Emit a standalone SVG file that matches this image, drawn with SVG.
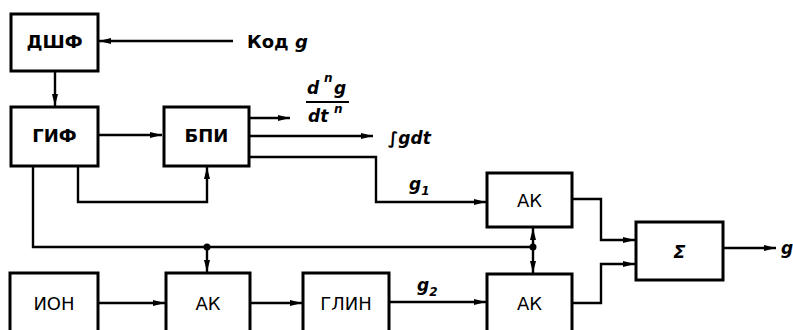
<svg xmlns="http://www.w3.org/2000/svg" width="793" height="330" viewBox="0 0 793 330">
<defs>
<marker id="ah" markerWidth="12" markerHeight="8" refX="12" refY="4" orient="auto" markerUnits="userSpaceOnUse">
<path d="M0,1 L12,4 L0,7 Z" fill="#000"/>
</marker>
</defs>
<style>
.box{fill:#fff;stroke:#000;stroke-width:3}
.ln{fill:none;stroke:#000;stroke-width:2.4}
.lb{font-family:"DejaVu Sans","Liberation Sans",sans-serif;font-size:18px;text-anchor:middle;fill:#000}
.b{font-weight:bold}
.m{font-family:"DejaVu Sans","Liberation Sans",sans-serif;font-style:italic;font-weight:bold;fill:#000}
</style>
<rect width="793" height="330" fill="#fff"/>
<g id="connectors">
<line class="ln" x1="233" y1="41" x2="99" y2="41" marker-end="url(#ah)"/>
<line class="ln" x1="55" y1="71" x2="55" y2="106" marker-end="url(#ah)"/>
<line class="ln" x1="98" y1="135" x2="162" y2="135" marker-end="url(#ah)"/>
<line class="ln" x1="249" y1="118" x2="290" y2="118" marker-end="url(#ah)"/>
<line class="ln" x1="249" y1="136" x2="373" y2="136" marker-end="url(#ah)"/>
<polyline class="ln" points="249,157 376,157 376,202 486,202" marker-end="url(#ah)"/>
<polyline class="ln" points="78,166 78,202 207,202 207,167" marker-end="url(#ah)"/>
<polyline class="ln" points="33,166 33,247 533,247"/>
<line class="ln" x1="207" y1="247" x2="207" y2="272" marker-end="url(#ah)"/>
<line class="ln" x1="533" y1="247" x2="533" y2="228" marker-end="url(#ah)"/>
<line class="ln" x1="533" y1="247" x2="533" y2="273" marker-end="url(#ah)"/>
<circle cx="207" cy="247" r="3.5" fill="#000"/>
<circle cx="533" cy="247" r="3.5" fill="#000"/>
<line class="ln" x1="98" y1="303" x2="165" y2="303" marker-end="url(#ah)"/>
<line class="ln" x1="250" y1="303" x2="302" y2="303" marker-end="url(#ah)"/>
<line class="ln" x1="389" y1="302" x2="486" y2="302" marker-end="url(#ah)"/>
<polyline class="ln" points="572,199 601,199 601,240 635,240" marker-end="url(#ah)"/>
<polyline class="ln" points="572,303 601,303 601,264 635,264" marker-end="url(#ah)"/>
<line class="ln" x1="723" y1="248" x2="776" y2="248" marker-end="url(#ah)"/>
</g>
<g id="dshf"><rect class="box" x="11" y="14" width="87" height="57"/><text class="lb b" x="54.5" y="48">ДШФ</text></g>
<g id="gif"><rect class="box" x="11" y="107" width="87" height="59"/><text class="lb b" x="54.5" y="142">ГИФ</text></g>
<g id="bpi"><rect class="box" x="164" y="107" width="85" height="59"/><text class="lb b" x="206.5" y="142">БПИ</text></g>
<g id="ak1"><rect class="box" x="487" y="173" width="85" height="54"/><text class="lb" x="529.5" y="207">АК</text></g>
<g id="sum"><rect class="box" x="636" y="222" width="87" height="58"/><text class="lb b" x="679.5" y="258" font-style="italic">Σ</text></g>
<g id="ion"><rect class="box" x="10" y="273" width="88" height="62"/><text class="lb" x="54" y="310">ИОН</text></g>
<g id="ak2"><rect class="box" x="166" y="273" width="84" height="62"/><text class="lb" x="208" y="310">АК</text></g>
<g id="glin"><rect class="box" x="303" y="273" width="86" height="62"/><text class="lb" x="346" y="310">ГЛИН</text></g>
<g id="ak3"><rect class="box" x="487" y="274" width="85" height="61"/><text class="lb" x="529.5" y="310">АК</text></g>
<g id="labels">
<text class="lb b" x="247" y="48" style="text-anchor:start">Код <tspan class="m">g</tspan></text>
<text class="m" x="307" y="94" font-size="17">d</text>
<text class="m" x="324" y="82" font-size="12">n</text>
<text class="m" x="334" y="94" font-size="17">g</text>
<line x1="306" y1="102" x2="349" y2="102" stroke="#000" stroke-width="2.2"/>
<text class="m" x="308" y="122" font-size="17">dt</text>
<text class="m" x="334" y="113" font-size="12">n</text>
<text class="m" x="388" y="144" font-size="17">∫gdt</text>
<text class="m" x="409" y="190" font-size="17">g<tspan font-size="12" dy="5">1</tspan></text>
<text class="m" x="417" y="291" font-size="17">g<tspan font-size="12" dy="5">2</tspan></text>
<text class="m" x="781" y="254" font-size="17">g</text>
</g>
</svg>
